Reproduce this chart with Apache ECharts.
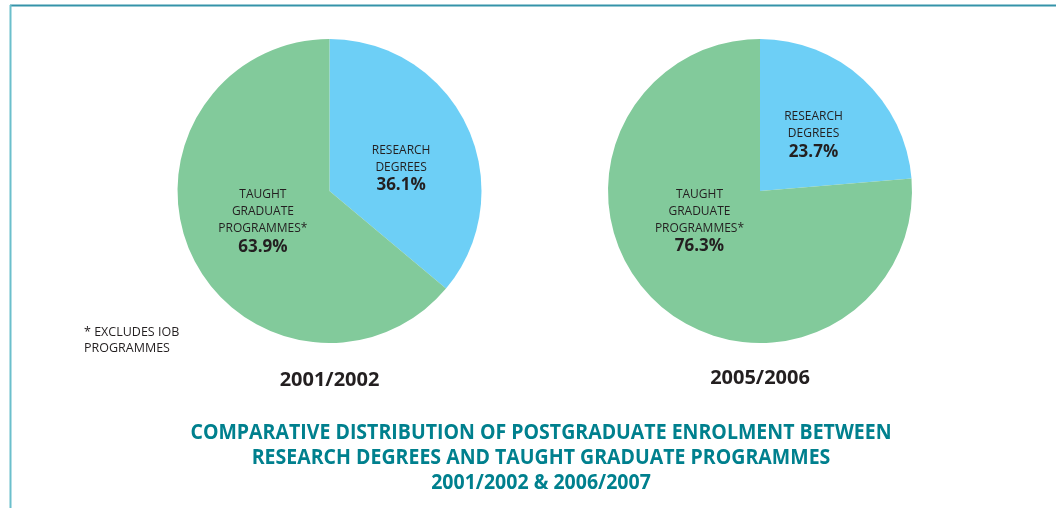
<!DOCTYPE html>
<html>
<head>
<meta charset="utf-8">
<script src="https://cdn.jsdelivr.net/npm/echarts@6/dist/echarts.min.js"></script>
<style>
html,body{margin:0;padding:0;background:#fff;}
#chart{width:1056px;height:508px;}
</style>
</head>
<body>
<div id="chart"></div>
<script>
// ---- data ----
const categories = ['RESEARCH\nDEGREES', 'TAUGHT\nGRADUATE\nPROGRAMMES*'];
const values2001 = [36.1, 63.9];
const values2005 = [23.7, 76.3];
const yearLabels = ['2001/2002', '2005/2006'];
const titleLines = [
  'COMPARATIVE DISTRIBUTION OF POSTGRADUATE ENROLMENT BETWEEN',
  'RESEARCH DEGREES AND TAUGHT GRADUATE PROGRAMMES',
  '2001/2002 & 2006/2007'
];
const footnote = '* EXCLUDES IOB\nPROGRAMMES';
const colors = ['#6dcff6', '#82ca9b'];

// ---- layout ----
const labelOffsets = [
  [[0, 11], [5, -3]],
  [[0, 2], [-7, -28]]
];
const txt = '#231f20';
const LFONT = '"Open Sans", "Noto Sans", sans-serif';

function pieSeries(vals, center, idx) {
  return {
    type: 'pie',
    center: center,
    radius: 152,
    startAngle: 90,
    clockwise: true,
    silent: true,
    animation: false,
    data: categories.map((c, i) => ({
      name: c, value: vals[i], itemStyle: { color: colors[i] }
    })),
    label: {
      position: 'inside',
      formatter: p => '{n|' + p.name + '}\n{p|' + p.value.toFixed(1) + '%}',
      rich: {
        n: { fontFamily: LFONT, fontSize: 12, color: txt, lineHeight: 17, align: 'center' },
        p: { fontFamily: LFONT, fontSize: 17, fontWeight: 'bold', color: txt, lineHeight: 19, align: 'center' }
      }
    },
    labelLine: { show: false },
    labelLayout: p => {
      const o = labelOffsets[idx][p.dataIndex];
      return { dx: o[0], dy: o[1] };
    }
  };
}

const chart = echarts.init(document.getElementById('chart'), null, { renderer: 'canvas' });
chart.setOption({
  backgroundColor: '#ffffff',
  series: [
    pieSeries(values2001, [329.5, 191], 0),
    pieSeries(values2005, [760, 191], 1)
  ],
  graphic: [
    { type: 'rect', shape: { x: 10, y: 4.5, width: 1046, height: 2 }, style: { fill: '#3593a9' }, silent: true },
    { type: 'rect', shape: { x: 9.5, y: 5, width: 2, height: 503 }, style: { fill: '#6bbfcc' }, silent: true },
    { type: 'text', x: 84, y: 324, style: { text: footnote, fontFamily: LFONT, fontSize: 12.5, fill: txt, lineHeight: 16 }, silent: true },
    { type: 'text', x: 329.5, y: 380, style: { text: yearLabels[0], fontFamily: LFONT, fontSize: 20, fontWeight: 'bold', fill: txt, align: 'center', verticalAlign: 'middle' }, silent: true },
    { type: 'text', x: 760, y: 378, style: { text: yearLabels[1], fontFamily: LFONT, fontSize: 20, fontWeight: 'bold', fill: txt, align: 'center', verticalAlign: 'middle' }, silent: true },
    { type: 'text', x: 541, y: 458, scaleX: 0.93, style: { text: titleLines.join('\n'), fontFamily: LFONT, fontSize: 21, fontWeight: 'bold', fill: '#00808e', align: 'center', verticalAlign: 'middle', lineHeight: 25 }, silent: true }
  ]
});
</script>
</body>
</html>
